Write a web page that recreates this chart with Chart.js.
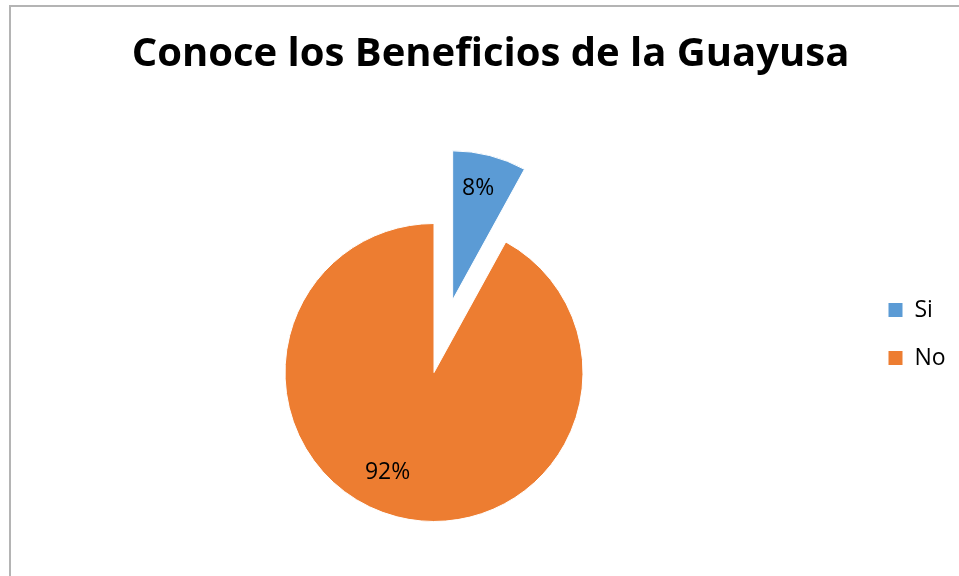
<!DOCTYPE html>
<html lang="es">
<head>
<meta charset="utf-8">
<title>Conoce los Beneficios de la Guayusa</title>
<script src="https://cdn.jsdelivr.net/npm/chart.js@4.4.1/dist/chart.umd.min.js"></script>
<style>
  html, body { margin: 0; padding: 0; background: #fff; overflow: hidden; }
  body { width: 959px; height: 576px; position: relative; }
  /* marco gris del área del gráfico */
  #marco { position: absolute; left: 9px; top: 5px; width: 1000px; height: 700px;
           border-left: 2px solid #b4b4b4; border-top: 2px solid #b4b4b4; }
  #grafico { position: absolute; left: 0; top: 0; }
</style>
</head>
<body>
<div id="marco"></div>
<canvas id="grafico" width="976" height="668"></canvas>
<script>
const titulo = 'Conoce los Beneficios de la Guayusa';
const categorias = ['Si', 'No'];
const respuestas = [8, 92];
const colores = ['#5B9BD5', '#ED7D31'];

Chart.defaults.font.family = "'Open Sans', sans-serif";

// la leyenda a la derecha ocupa un ancho fijo para que el pastel quede en su sitio
const anchoLeyenda = {
  id: 'anchoLeyenda',
  afterInit(chart, args, opts) {
    const leyenda = chart.legend;
    const fitOriginal = leyenda.fit;
    leyenda.fit = function () {
      fitOriginal.call(this);
      this.width = Math.max(this.width, opts.minimo);
    };
  }
};

// dibuja cada porción desplazada hacia afuera sin agrandar su radio
const porcionesSeparadas = {
  id: 'porcionesSeparadas',
  beforeDatasetDraw(chart, args, opts) {
    const ctx = chart.ctx;
    args.meta.data.forEach((arc, i) => {
      const medio = (arc.startAngle + arc.endAngle) / 2;
      const d = opts.separacion[i] || 0;
      ctx.save();
      ctx.translate(Math.cos(medio) * d, Math.sin(medio) * d);
      arc.draw(ctx);
      ctx.restore();
    });
    return false;
  }
};

// porcentaje escrito dentro de cada porción
const etiquetasPorcentaje = {
  id: 'etiquetasPorcentaje',
  afterDatasetsDraw(chart, args, opts) {
    const ctx = chart.ctx;
    const meta = chart.getDatasetMeta(0);
    const datos = chart.data.datasets[0].data;
    const total = datos.reduce((a, b) => a + b, 0);
    const separacion = chart.options.plugins.porcionesSeparadas.separacion;
    ctx.save();
    ctx.font = opts.font;
    ctx.fillStyle = opts.color;
    ctx.textAlign = 'center';
    ctx.textBaseline = 'middle';
    meta.data.forEach((arc, i) => {
      const medio = (arc.startAngle + arc.endAngle) / 2;
      const d = separacion[i] || 0;
      const cx = arc.x + Math.cos(medio) * d;
      const cy = arc.y + Math.sin(medio) * d;
      const pos = opts.posicion[i];
      const ang = medio + pos.giro;
      const r = arc.outerRadius * pos.radio;
      const texto = Math.round(datos[i] / total * 100) + '%';
      ctx.fillText(texto, cx + Math.cos(ang) * r, cy + Math.sin(ang) * r);
    });
    ctx.restore();
  }
};

new Chart(document.getElementById('grafico'), {
  type: 'pie',
  data: {
    labels: categorias,
    datasets: [{
      data: respuestas,
      backgroundColor: colores,
      radius: 149,
      borderColor: '#fff',
      borderWidth: 1
    }]
  },
  options: {
    responsive: false,
    animation: false,
    devicePixelRatio: 1,
    layout: { padding: { left: 5, right: 0, top: 0, bottom: 0 } },
    plugins: {
      title: {
        display: true,
        text: titulo,
        color: '#000',
        font: { size: 40, weight: 'bold', lineHeight: 1.1 },
        padding: { top: 33, bottom: 0 }
      },
      legend: {
        position: 'right',
        labels: { color: '#000', font: { size: 23 }, boxWidth: 15, boxHeight: 15, padding: 25 }
      },
      tooltip: { enabled: false },
      anchoLeyenda: { minimo: 113 },
      porcionesSeparadas: { separacion: [75, 0] },
      etiquetasPorcentaje: {
        font: "23px 'Open Sans', sans-serif",
        color: '#000',
        posicion: [{ radio: 0.764, giro: -0.026 }, { radio: 0.742, giro: 0.182 }]
      }
    }
  },
  plugins: [anchoLeyenda, porcionesSeparadas, etiquetasPorcentaje]
});
</script>
</body>
</html>
